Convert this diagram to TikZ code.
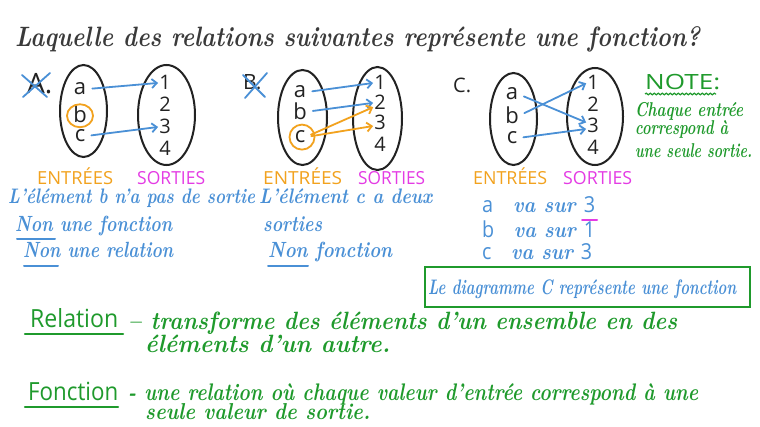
\documentclass[tikz,border=0pt]{standalone}
\usepackage{fontspec}
\usepackage{graphicx}
\newfontfamily\prfont{Open Sans}
\newcommand{\pr}[1]{{\prfont\upshape\mdseries #1}}
\usetikzlibrary{shapes.geometric,arrows.meta,decorations.pathmorphing}
\definecolor{ink}{HTML}{3A3A3A}
\definecolor{pen}{HTML}{222222}
\definecolor{bl}{HTML}{4A90D6}
\definecolor{og}{HTML}{F2A21E}
\definecolor{mg}{HTML}{E43BE4}
\definecolor{gr}{HTML}{1F9A2C}
\newcommand{\fitto}[2]{\resizebox{#1pt}{\height}{#2}}
\begin{document}
\begin{tikzpicture}[x=1pt,y=-1pt,
  txt/.style={inner sep=0pt, anchor=base west},
  cur/.style={txt, font=\fontsize{#1}{#1}\selectfont\bfseries\itshape},
  prt/.style={txt, font=\prfont\fontsize{#1}{#1}\selectfont},
  letter/.style={inner sep=0pt, anchor=base, font=\prfont\fontsize{22}{22}\selectfont, text=pen},
  digit/.style={inner sep=0pt, anchor=base, font=\prfont\fontsize{20}{20}\selectfont, text=pen},
  setbox/.style={ellipse, draw=pen, line width=2pt, inner sep=0pt},
  map/.style={-{Straight Barb[length=5pt,width=9pt]}, line width=1.8pt, line cap=round, shorten <=6pt, shorten >=1pt},
  ring/.style={ellipse, draw=og, line width=1.8pt, inner sep=0pt},
  cross/.style={bl, line width=1.8pt, line cap=round},
  uline/.style={line width=2pt, line cap=round}
]
\fill[white] (0,0) rectangle (760,427);
\useasboundingbox (0,0) rectangle (760,427);

% title
\node[cur=28, text=ink] (title) at (15,47) {\fitto{685}{Laquelle des relations suivantes représente une fonction?}};

% ---------- Panel A ----------
\node[prt=28, text=pen] (labA) at (27,94) {A.};
\draw[cross] (22,75) -- (47,97);
\draw[cross] (23,97) -- (50,73);
\node[setbox, minimum width=47pt, minimum height=92pt] (AL) at (83.5,111) {};
\node[setbox, minimum width=57pt, minimum height=100pt] (AR) at (166.5,115) {};
\node[letter] (Aa) at (80,95) {a};
\node[letter] (Ab) at (80,123) {b};
\node[letter] (Ac) at (80,142) {c};
\node[digit] (A1) at (165,90) {1};
\node[digit] (A2) at (165,112) {2};
\node[digit] (A3) at (165,134) {3};
\node[digit] (A4) at (165,156) {4};
\node[ring, minimum width=26pt, minimum height=23pt] (Aring) at ([yshift=-1pt]Ab.center) {};
\draw[map, bl] (Aa.east) -- (A1.west);
\draw[map, bl] (Ac.east) -- (A3.west);
\node[prt=18, text=og] (inA) at (37,185) {\fitto{76}{ENTRÉES}};
\node[prt=18, text=mg] (outA) at (137,185) {\fitto{68}{SORTIES}};

% ---------- Panel B ----------
\node[prt=21, text=pen] (labB) at (243,90) {B.};
\draw[cross] (243,75) -- (265,97);
\draw[cross] (245,98) -- (267,73);
\node[setbox, minimum width=49pt, minimum height=95pt] (BL) at (302.5,117.5) {};
\node[setbox, minimum width=49pt, minimum height=103pt] (BR) at (377.5,118.5) {};
\node[letter] (Ba) at (300,98) {a};
\node[letter] (Bb) at (300,120) {b};
\node[letter] (Bc) at (300,143) {c};
\node[digit] (B1) at (380,90) {1};
\node[digit] (B2) at (380,110) {2};
\node[digit] (B3) at (380,130) {3};
\node[digit] (B4) at (380,152) {4};
\node[ring, minimum width=25pt, minimum height=25pt] (Bring) at ([xshift=2pt]Bc.center) {};
\draw[map, bl] (Ba.east) -- (B1.west);
\draw[map, bl] (Bb.east) -- (B2.west);
\draw[map, og] (Bc.east) -- ([yshift=-4pt]B2.west);
\draw[map, og] (Bc.east) -- ([yshift=-3pt]B3.west);
\node[prt=18, text=og] (inB) at (263,185) {\fitto{79}{ENTRÉES}};
\node[prt=18, text=mg] (outB) at (358,185) {\fitto{67}{SORTIES}};

% ---------- Panel C ----------
\node[prt=20, text=pen] (labC) at (453,93) {C.};
\node[setbox, minimum width=47pt, minimum height=92pt] (CL) at (513.5,119) {};
\node[setbox, minimum width=56pt, minimum height=97pt] (CR) at (595,116.5) {};
\node[letter] (Ca) at (512,100) {a};
\node[letter] (Cb) at (512,124) {b};
\node[letter] (Cc) at (512,144) {c};
\node[digit] (C1) at (593,90) {1};
\node[digit] (C2) at (593,112) {2};
\node[digit] (C3) at (593,133) {3};
\node[digit] (C4) at (593,155) {4};
\draw[map, bl] (Ca.east) -- ([yshift=3pt]C3.west);
\draw[map, bl] (Cb.east) -- (C1.west);
\draw[map, bl] (Cc.east) -- ([yshift=-3pt]C3.west);
\node[prt=18, text=og] (inC) at (473,185) {\fitto{74}{ENTRÉES}};
\node[prt=18, text=mg] (outC) at (563,185) {\fitto{69}{SORTIES}};

% note
\node[prt=21, text=gr] (note) at (645,90) {\fitto{75}{NOTE:}};
\draw[gr, line width=1.2pt, decorate, decoration={snake, amplitude=0.8pt, segment length=4pt}] (645,94) -- (716,94);
\node[cur=20, text=gr] (n1) at (635,117) {\fitto{108}{Chaque entrée}};
\node[cur=20, text=gr] (n2) at (635,135) {\fitto{93}{correspond à}};
\node[cur=20, text=gr] (n3) at (635,158) {\fitto{117}{une seule sortie.}};

% blue explanations
\node[cur=21, text=bl] (tA1) at (8,204) {\fitto{247}{L'élément b n'a pas de sortie}};
\node[cur=22, text=bl] (tA2) at (15,232) {\fitto{157}{Non une fonction}};
\node[cur=22, text=bl] (tA3) at (23,258) {\fitto{150}{Non une relation}};
\draw[bl, uline] (17,239) -- (55,239);
\draw[bl, uline] (24,266) -- (58,266);
\node[cur=21, text=bl] (tB1) at (259,204) {\fitto{173}{L'élément c a deux}};
\node[cur=22, text=bl] (tB2) at (263,232) {\fitto{59}{sorties}};
\node[cur=22, text=bl] (tB3) at (268,258) {\fitto{124}{Non fonction}};
\draw[bl, uline] (268,266) -- (308,266);

\node[cur=22, text=bl] (tC1) at (482,213) {\fitto{113}{\pr{a}\quad va sur \pr{3}}};
\node[cur=22, text=bl] (tC2) at (482,238) {\fitto{113}{\pr{b}\quad va sur \pr{1}}};
\node[cur=22, text=bl] (tC3) at (482,260) {\fitto{110}{\pr{c}\quad va sur \pr{3}}};
\draw[mg, uline] (582,220) -- (597,220);

\node[draw=gr, line width=1.8pt, minimum width=325pt, minimum height=40pt, inner sep=0pt] (box) at (587.5,287) {};
\node[cur=21, text=bl] (boxtxt) at (428,295) {\fitto{308}{Le diagramme C représente une fonction}};

% definitions
\node[prt=25, text=gr] (rel) at (30,328) {\fitto{88}{Relation}};
\draw[gr, line width=2.5pt, line cap=round] (25,334) -- (123,334);
\node[cur=25, text=gr] (rel1) at (128,330) {\fitto{549}{– transforme des éléments d'un ensemble en des}};
\node[cur=25, text=gr] (rel2) at (145,353) {\fitto{245}{éléments d'un autre.}};
\node[prt=25, text=gr] (fct) at (28,400) {\fitto{90}{Fonction}};
\draw[gr, line width=2.5pt, line cap=round] (25,407) -- (118,407);
\node[cur=24, text=gr] (fct1) at (128,400) {\fitto{570}{- une relation où chaque valeur d'entrée correspond à une}};
\node[cur=23, text=gr] (fct2) at (145,419) {\fitto{225}{seule valeur de sortie.}};
\end{tikzpicture}
\end{document}
